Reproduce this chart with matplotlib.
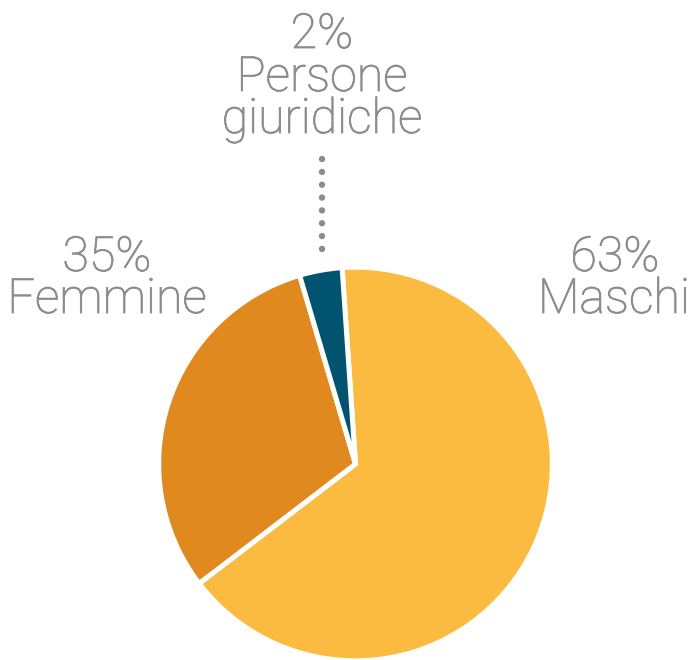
import matplotlib
matplotlib.use("Agg")
import matplotlib.pyplot as plt
import matplotlib.patheffects as pe

# Data (slice sizes as drawn, label texts as printed)
categories = ["Maschi", "Femmine", "Persone giuridiche"]
slice_values = [65.7, 30.8, 3.5]
pct_labels = ["63%", "35%", "2%"]
colors = ["#FBBA40", "#E0891F", "#02536F"]

W, H = 693, 660
fig = plt.figure(figsize=(W / 100, H / 100), dpi=100)
ax = fig.add_axes([0, 0, 1, 1])

cx, cy, r = 355.5, H - 464, 196.8
ax.pie(slice_values, colors=colors, startangle=93.9, counterclock=False,
       center=(cx, cy), radius=r, frame=True,
       wedgeprops=dict(edgecolor="white", linewidth=3.6))
ax.set_xlim(0, W)
ax.set_ylim(0, H)
ax.set_aspect("auto")
ax.axis("off")

gray = "#8C8C8C"
font = dict(family=["Roboto", "DejaVu Sans"], weight="light", color=gray,
            fontsize=34.8, ha="center", va="baseline",
            path_effects=[pe.Stroke(linewidth=0.6, foreground=gray), pe.Normal()])

# Maschi
ax.text(615, H - 271, pct_labels[0], **font)
ax.text(614, H - 313, categories[0], **font)
# Femmine
ax.text(107, H - 271, pct_labels[1], **font)
ax.text(107, H - 313, categories[1], **font)
# Persone giuridiche
ax.text(322, H - 48, pct_labels[2], **font)
ax.text(322, H - 91, "Persone", **font)
ax.text(322, H - 133, "giuridiche", **font)

ax.plot([322, 322], [H - 159, H - 249], color=gray, linewidth=4.6,
        linestyle=(0, (0.01, 2.0)), dash_capstyle="round", solid_capstyle="round")

fig.savefig("out.png", dpi=100)
